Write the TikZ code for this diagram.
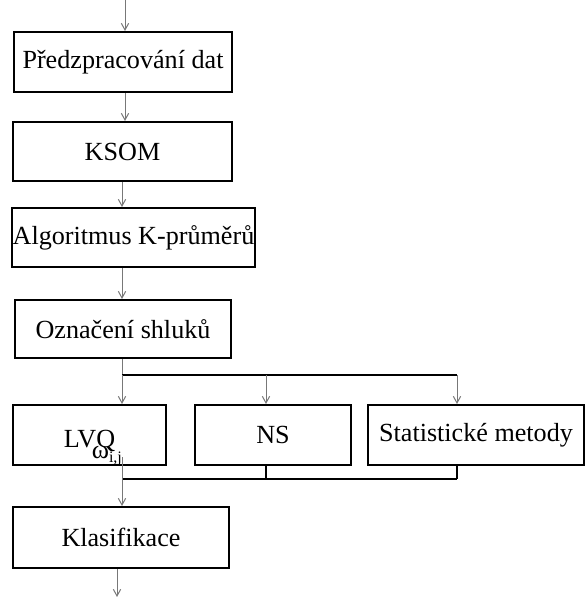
\documentclass[tikz,border=0pt]{standalone}
\usepackage{fontspec}
\setmainfont{Liberation Serif}
\usetikzlibrary{arrows.meta}

\tikzset{every picture/.style={line width=0.75pt}}
\tikzset{
  box/.style={draw, line width=1.5pt, inner sep=0pt, font=\fontsize{19.6}{23}\selectfont},
  arr/.style={color={rgb, 255:red, 120; green, 120; blue, 120 }, line width=0.75pt, -{Straight Barb[length=5pt,width=5.5pt]}},
  link/.style={color={rgb, 255:red, 120; green, 120; blue, 120 }, line width=0.75pt},
  bus/.style={line width=1.5pt}
}

\begin{document}
\begin{tikzpicture}[x=0.75pt,y=0.75pt,yscale=-1,xscale=1]
\useasboundingbox (0,0) rectangle (585,597);

% Text Node
\node [box, minimum width=163.5pt, minimum height=45pt] (pre) at (123,62) {Předzpracování dat};
% Text Node
\node [box, minimum width=164.25pt, minimum height=44.25pt] (ksom) at (122.5,151.5) {KSOM};
% Text Node
\node [box, minimum width=182.25pt, minimum height=44.25pt] (kmeans) at (133.5,237.5) {Algoritmus K-průměrů};
% Text Node
\node [box, minimum width=162pt, minimum height=43.5pt] (label) at (123,329) {Označení shluků};
% Text Node
\node [box, minimum width=114.75pt, minimum height=45pt, text height=18.2pt, text depth=0pt] (lvq) at (89.5,435) {LVQ\rlap{\hspace{-17.5pt}\raisebox{-8.4pt}{ω\raisebox{-3pt}{\fontsize{12}{12}\selectfont i,j}}}};
% Text Node
\node [box, minimum width=117pt, minimum height=45pt] (ns) at (273,435) {NS};
% Text Node
\node [box, minimum width=162pt, minimum height=45pt] (stat) at (476,435) {Statistické metody};
% Text Node
\node [box, minimum width=162pt, minimum height=45.75pt] (klas) at (121,537.5) {Klasifikace};

% Free ends and branch points
\coordinate (in) at (125,0);
\coordinate (split) at (122,375);
\coordinate (nsx) at (266,375);
\coordinate (statx) at (457,375);
\coordinate (merge) at (122,479);
\coordinate (lvqout) at (122,457);
\coordinate (out) at (117,597);

%Straight Lines
\draw [arr] (in) -- (in |- pre.north);
\draw [arr] (pre.south -| in) -- (ksom.north -| in);
\draw [arr] (ksom.south -| split) -- (kmeans.north -| split);
\draw [arr] (kmeans.south -| split) -- (label.north -| split);
\draw [link] (label.south -| split) -- (split);
%Straight Lines
\draw [bus] (split) -- (statx);
\draw [arr] (split) -- (split |- lvq.north);
\draw [arr] (nsx) -- (nsx |- ns.north);
\draw [arr] (statx) -- (statx |- stat.north);
%Straight Lines
\draw [bus] (ns.south -| nsx) -- (merge -| nsx);
\draw [bus] (stat.south -| statx) -- (merge -| statx);
\draw [bus] (merge) -- (merge -| statx);
\draw [arr] (lvqout) -- (klas.north -| lvqout);
\draw [arr] (klas.south -| out) -- (out);

\end{tikzpicture}
\end{document}
